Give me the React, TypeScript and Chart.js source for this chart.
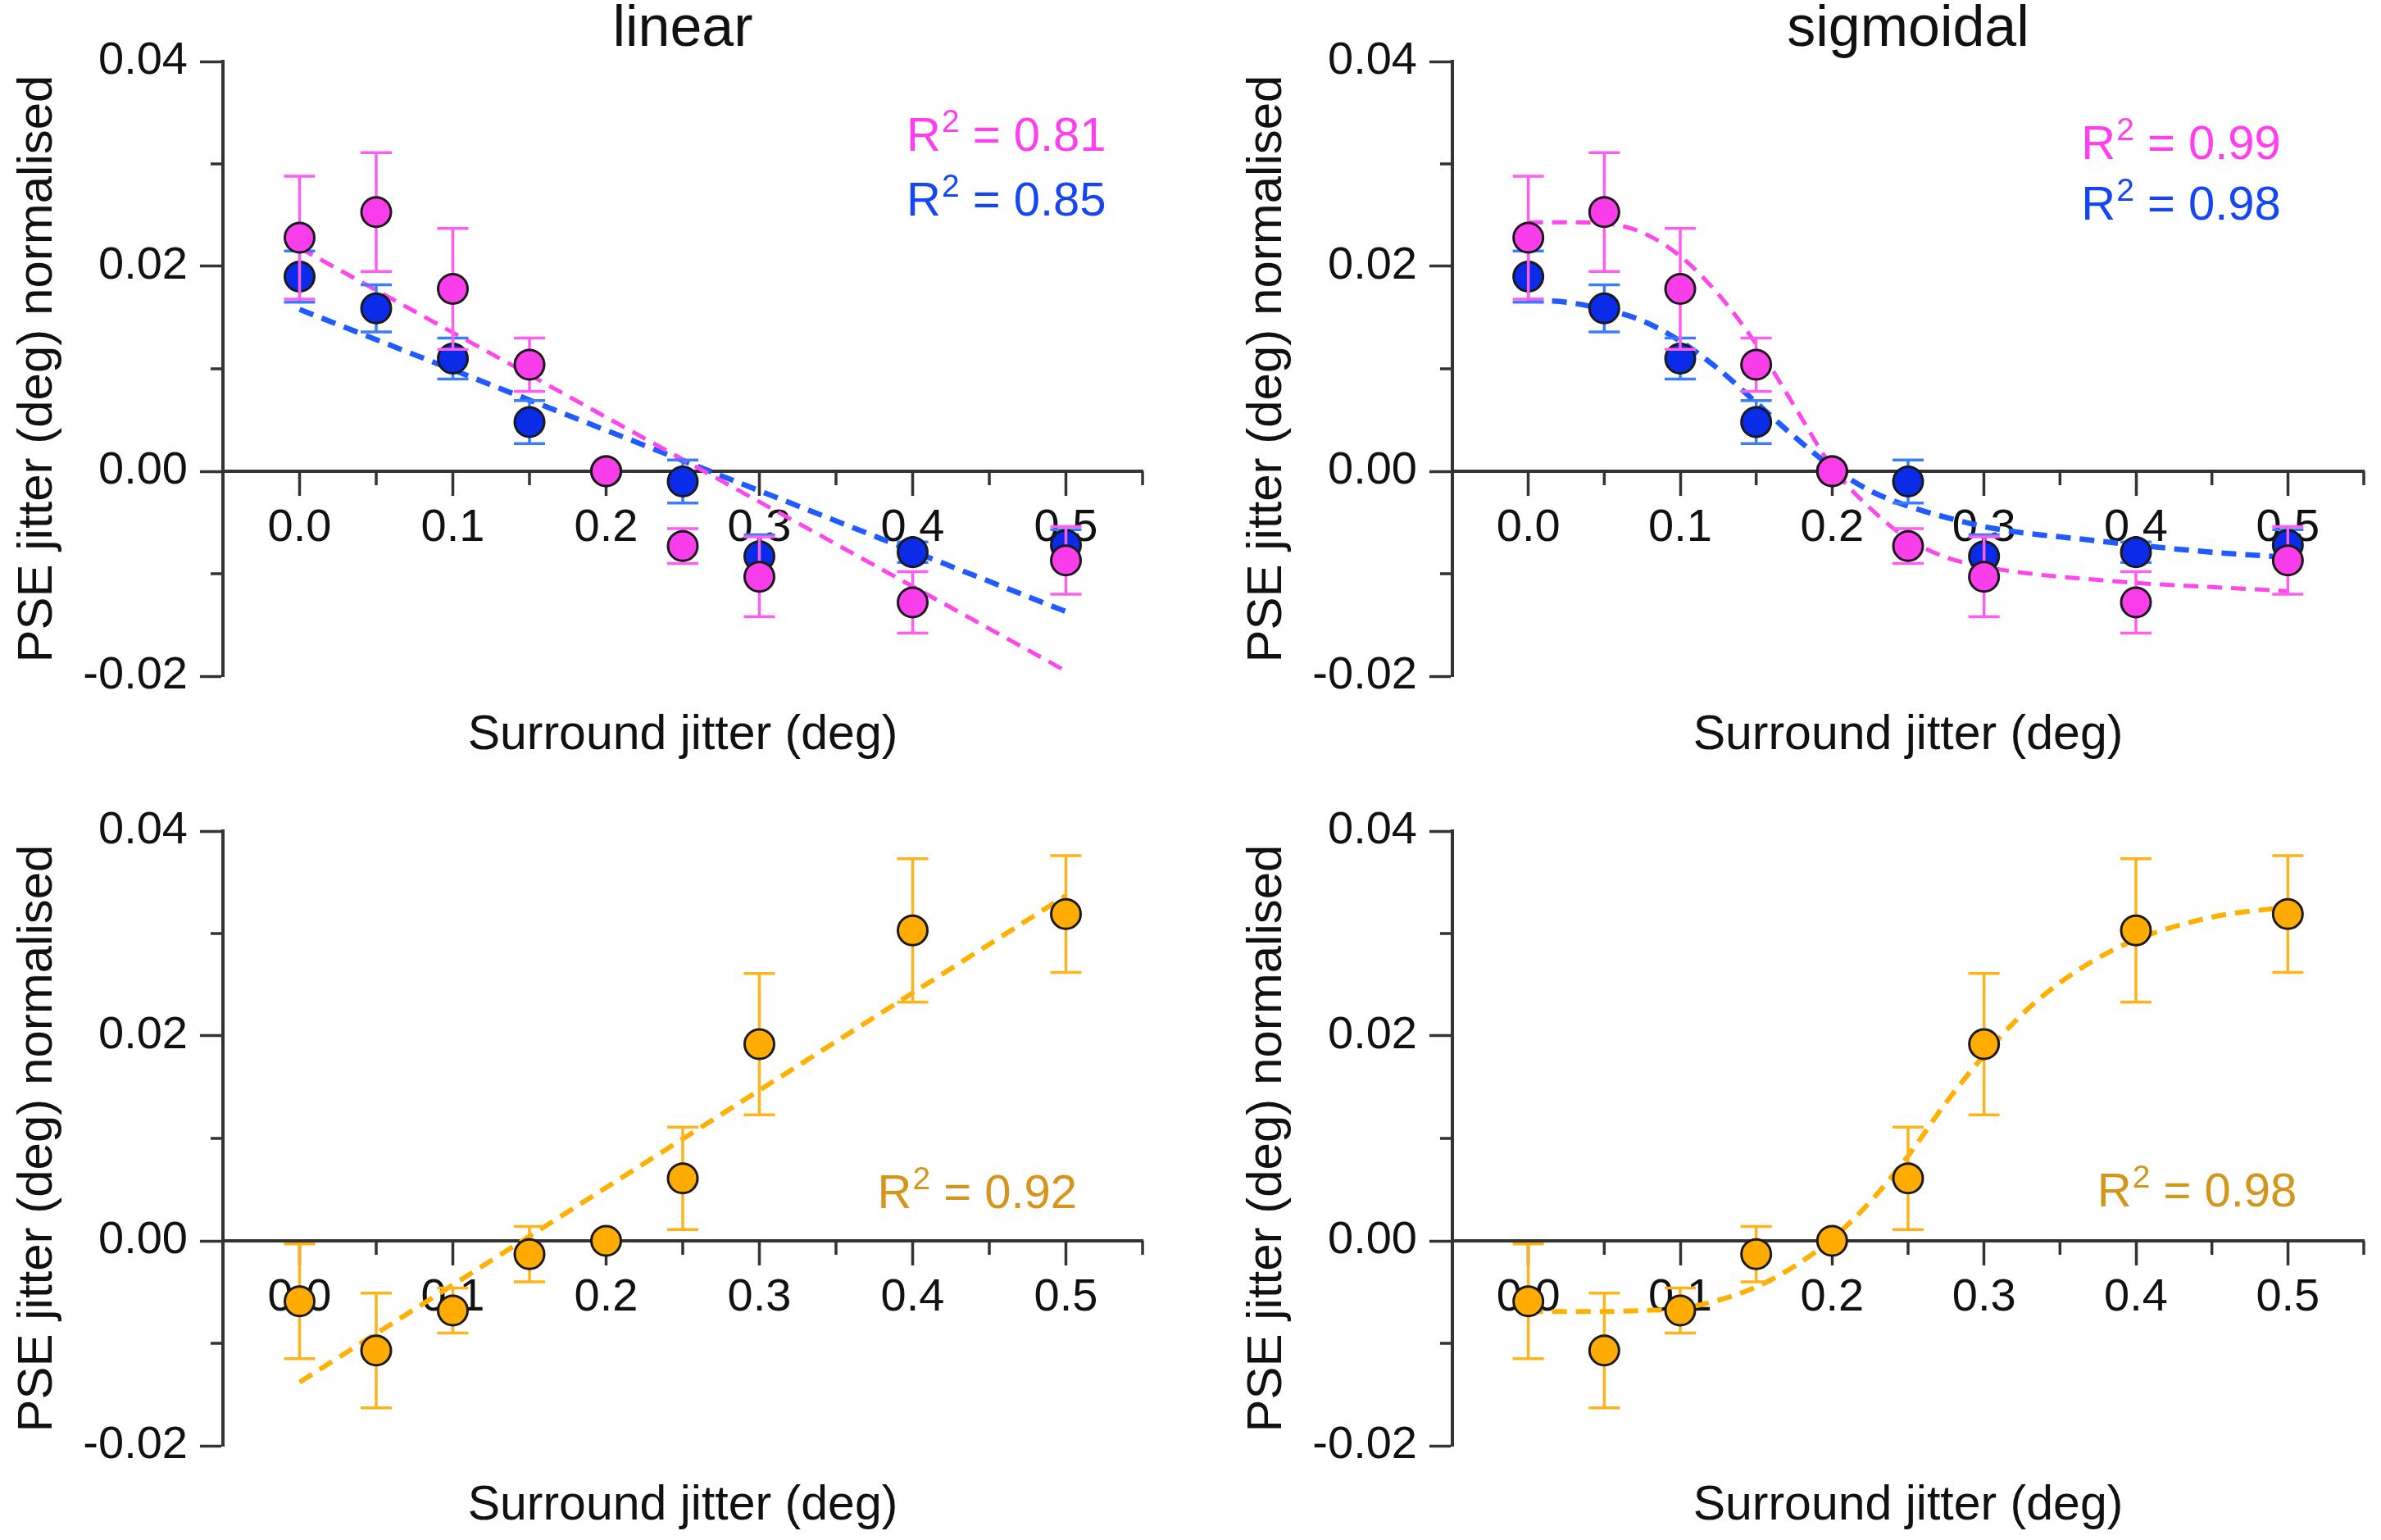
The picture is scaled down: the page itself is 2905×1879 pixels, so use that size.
import React, { useEffect, useRef } from 'react';
import { Chart, registerables } from 'chart.js';

Chart.register(...registerables);

// ---------------- data ----------------
const jitter = [0, 0.05, 0.1, 0.15, 0.2, 0.25, 0.3, 0.4, 0.5];

const magentaMean = [0.0228, 0.0253, 0.0178, 0.0104, 0.0, -0.0073, -0.0103, -0.0128, -0.0087];
const magentaErr = [0.006, 0.0058, 0.0059, 0.0026, 0, 0.0017, 0.0039, 0.003, 0.0033];

const blueMean = [0.019, 0.0159, 0.011, 0.0048, 0.0, -0.001, -0.0083, -0.0079, -0.0072];
const blueErr = [0.0025, 0.0023, 0.002, 0.0021, 0, 0.0021, 0.0021, 0.001, 0.0015];

const orangeMean = [-0.0059, -0.0107, -0.0068, -0.0013, 0.0, 0.0061, 0.0192, 0.0303, 0.0319];
const orangeErr = [0.0056, 0.0056, 0.0022, 0.0027, 0, 0.005, 0.0069, 0.007, 0.0057];

// linear fits (end points)
const linX = [0, 0.5];
const linMagenta = [0.0218, -0.0195];
const linBlue = [0.0158, -0.0137];
const linOrange = [-0.0138, 0.0337];

// sigmoidal fits
const sigX = [0, 0.025, 0.05, 0.075, 0.1, 0.125, 0.15, 0.175, 0.2, 0.225, 0.25, 0.275, 0.3, 0.325, 0.35, 0.375, 0.4, 0.45, 0.5];
const sigMagenta = [0.0243, 0.0243, 0.0242, 0.0233, 0.021, 0.0173, 0.0124, 0.0064, 0.0004, -0.0036, -0.0066, -0.0084, -0.0093, -0.0099, -0.0103, -0.0106, -0.0109, -0.0113, -0.0117];
const sigBlue = [0.0167, 0.0165, 0.0158, 0.0147, 0.0127, 0.01, 0.0067, 0.0034, 0.0004, -0.0019, -0.0034, -0.0045, -0.0054, -0.006, -0.0064, -0.0068, -0.0072, -0.0079, -0.0084];
const sigOrange = [-0.0069, -0.0069, -0.0069, -0.0068, -0.0066, -0.0058, -0.0045, -0.0025, 0.0002, 0.0038, 0.0083, 0.0135, 0.0181, 0.0221, 0.0252, 0.0276, 0.0294, 0.0316, 0.0326];

const xTicks = [0, 0.1, 0.2, 0.3, 0.4, 0.5];
const xMinorTicks = [0.05, 0.15, 0.25, 0.35, 0.45, 0.55];
const yTicks = [-0.02, 0, 0.02, 0.04];
const yMinorTicks = [-0.01, 0.01, 0.03];

const panelTitles = ['linear', 'sigmoidal'];
const xTitle = 'Surround jitter (deg)';
const yTitle = 'PSE jitter (deg) normalised';

const r2Linear = ['0.81', '0.85'];
const r2Sigmoid = ['0.99', '0.98'];
const r2LinearOrange = '0.92';
const r2SigmoidOrange = '0.98';

// ---------------- styles ----------------
const FONT = "'Liberation Sans', Arial, Helvetica, sans-serif";
const AXIS = '#333333';
const TEXT = '#111111';

const MAGENTA = { fill: '#F93DEA', err: '#FF5CF2', line: '#FF45EC', text: '#FF3EF0', width: 5 };
const BLUE = { fill: '#0A2BE8', err: '#3B7CFF', line: '#1F5BFF', text: '#1447F0', width: 6.5 };
const ORANGE = { fill: '#FFAB00', err: '#FFB31A', line: '#FFB000', text: '#D4961A', width: 6 };

type Col = typeof MAGENTA;
type SeriesDef = { mean: number[]; err: number[]; fitX: number[]; fitY: number[]; col: Col; r2: string };
type PanelDef = {
  key: string;
  left: number;
  top: number;
  width: number;
  height: number;
  padRight: number;
  title: string | null;
  smooth: boolean;
  series: SeriesDef[];
  r2x: number;
  r2y: number[];
};

const errorBarPlugin = {
  id: 'errbars',
  beforeDatasetDraw(chart: any, args: any) {
    const ds = chart.data.datasets[args.index];
    if (!ds.errors) return;
    const ctx = chart.ctx;
    const xs = chart.scales.x;
    const ys = chart.scales.y;
    ctx.save();
    ctx.strokeStyle = ds.errColor;
    ctx.lineWidth = 3.5;
    ds.data.forEach((p: any, i: number) => {
      const e = ds.errors[i];
      if (!e) return;
      const px = xs.getPixelForValue(p.x);
      const yt = ys.getPixelForValue(p.y + e);
      const yb = ys.getPixelForValue(p.y - e);
      ctx.beginPath();
      ctx.moveTo(px, yt);
      ctx.lineTo(px, yb);
      ctx.moveTo(px - 19, yt);
      ctx.lineTo(px + 19, yt);
      ctx.moveTo(px - 19, yb);
      ctx.lineTo(px + 19, yb);
      ctx.stroke();
    });
    ctx.restore();
  },
};

const minorTickPlugin = {
  id: 'minorticks',
  beforeDatasetsDraw(chart: any) {
    const ctx = chart.ctx;
    const xs = chart.scales.x;
    const ys = chart.scales.y;
    const y0 = ys.getPixelForValue(0);
    const left = chart.chartArea.left;
    ctx.save();
    ctx.strokeStyle = AXIS;
    ctx.lineWidth = 3.5;
    ctx.beginPath();
    xMinorTicks.forEach((v) => {
      const px = xs.getPixelForValue(v);
      ctx.moveTo(px, y0);
      ctx.lineTo(px, y0 + 17);
    });
    yMinorTicks.forEach((v) => {
      const py = ys.getPixelForValue(v);
      ctx.moveTo(left - 15, py);
      ctx.lineTo(left, py);
    });
    ctx.stroke();
    ctx.restore();
  },
};

const r2Plugin = {
  id: 'r2labels',
  afterDatasetsDraw(chart: any, _args: any, opts: any) {
    const items = (opts && opts.items) || [];
    const ctx = chart.ctx;
    const xs = chart.scales.x;
    const ys = chart.scales.y;
    ctx.save();
    ctx.textBaseline = 'alphabetic';
    ctx.textAlign = 'left';
    items.forEach((it: any) => {
      let px = xs.getPixelForValue(it.x);
      const py = ys.getPixelForValue(it.y);
      ctx.fillStyle = it.color;
      ctx.font = `58px ${FONT}`;
      ctx.fillText('R', px, py);
      px += ctx.measureText('R').width;
      ctx.font = `39px ${FONT}`;
      ctx.fillText('2', px + 1, py - 23);
      px += ctx.measureText('2').width + 1;
      ctx.font = `58px ${FONT}`;
      ctx.fillText(' = ' + it.value, px, py);
    });
    ctx.restore();
  },
};

function Panel({ def }: { def: PanelDef }) {
  const ref = useRef<HTMLCanvasElement | null>(null);
  useEffect(() => {
    if (!ref.current) return;
    const datasets: any[] = [];
    def.series.forEach((s, i) => {
      datasets.push({
        type: 'line',
        xAxisID: 'x',
        yAxisID: 'y',
        data: s.fitX.map((x, k) => ({ x, y: s.fitY[k] })),
        borderColor: s.col.line,
        borderWidth: s.col.width,
        borderDash: [18, 11],
        pointRadius: 0,
        fill: false,
        showLine: true,
        cubicInterpolationMode: def.smooth ? 'monotone' : 'default',
        tension: 0,
        order: 10 + i,
      });
      datasets.push({
        type: 'scatter',
        xAxisID: 'x',
        yAxisID: 'y',
        data: jitter.map((x, k) => ({ x, y: s.mean[k] })),
        errors: s.err,
        errColor: s.col.err,
        backgroundColor: s.col.fill,
        borderColor: '#1a1a1a',
        borderWidth: 3,
        pointRadius: 18,
        pointHoverRadius: 18,
        order: 1 + i,
      });
    });
    const bottomH = def.height - 825;
    const chart = new Chart(ref.current, {
      type: 'scatter',
      data: { datasets },
      plugins: [errorBarPlugin, minorTickPlugin, r2Plugin],
      options: {
        animation: false,
        responsive: false,
        events: [],
        layout: { padding: { left: 0, right: def.padRight, top: def.title ? 0 : 75, bottom: 0 } },
        plugins: {
          legend: { display: false },
          tooltip: { enabled: false },
          title: {
            display: !!def.title,
            text: def.title || '',
            fullSize: false,
            color: TEXT,
            font: { family: FONT, size: 70, weight: 'normal', lineHeight: 1 },
            padding: { top: 2, bottom: 3 },
          },
          r2labels: {
            items: def.series.map((s, i) => ({ x: def.r2x, y: def.r2y[i], value: s.r2, color: s.col.text })),
          },
        } as any,
        scales: {
          x: {
            type: 'linear',
            min: -0.05,
            max: 0.55,
            position: { y: 0 } as any,
            afterBuildTicks: (s: any) => {
              s.ticks = xTicks.map((v) => ({ value: v }));
            },
            ticks: {
              font: { family: FONT, size: 56 },
              color: TEXT,
              padding: 8,
              maxRotation: 0,
              autoSkip: false,
              callback: (v: any) => Number(v).toFixed(1),
            },
            grid: { display: true, drawOnChartArea: false, drawTicks: true, tickLength: 28, tickWidth: 3.5, tickColor: AXIS },
            border: { display: true, color: AXIS, width: 4 },
          },
          xTitle: {
            type: 'linear',
            axis: 'x',
            position: 'bottom',
            min: 0,
            max: 1,
            ticks: { display: false },
            grid: { display: false, drawTicks: false },
            border: { display: false },
            title: {
              display: true,
              text: xTitle,
              color: TEXT,
              font: { family: FONT, size: 59 },
              padding: { top: 0, bottom: 6 },
            },
            afterFit: (s: any) => {
              s.height = bottomH;
            },
          },
          y: {
            type: 'linear',
            position: 'left',
            min: -0.02,
            max: 0.04,
            afterBuildTicks: (s: any) => {
              s.ticks = yTicks.map((v) => ({ value: v }));
            },
            ticks: {
              font: { family: FONT, size: 56 },
              color: TEXT,
              padding: 15,
              callback: (v: any) => Number(v).toFixed(2),
            },
            grid: { display: true, drawOnChartArea: false, drawTicks: true, tickLength: 28, tickWidth: 3.5, tickColor: AXIS },
            border: { display: true, color: AXIS, width: 4 },
            title: {
              display: true,
              text: yTitle,
              color: TEXT,
              font: { family: FONT, size: 60 },
              padding: { top: 10, bottom: 0 },
            },
            afterFit: (s: any) => {
              s.width = 272;
            },
          },
        } as any,
      },
    });
    return () => chart.destroy();
  }, [def]);
  return (
    <div style={{ position: 'absolute', left: def.left, top: def.top, width: def.width, height: def.height }}>
      <canvas ref={ref} width={def.width} height={def.height} style={{ width: def.width, height: def.height, display: 'block' }} />
    </div>
  );
}

const magentaLin: SeriesDef = { mean: magentaMean, err: magentaErr, fitX: linX, fitY: linMagenta, col: MAGENTA, r2: r2Linear[0] };
const blueLin: SeriesDef = { mean: blueMean, err: blueErr, fitX: linX, fitY: linBlue, col: BLUE, r2: r2Linear[1] };
const magentaSig: SeriesDef = { mean: magentaMean, err: magentaErr, fitX: sigX, fitY: sigMagenta, col: MAGENTA, r2: r2Sigmoid[0] };
const blueSig: SeriesDef = { mean: blueMean, err: blueErr, fitX: sigX, fitY: sigBlue, col: BLUE, r2: r2Sigmoid[1] };
const orangeLin: SeriesDef = { mean: orangeMean, err: orangeErr, fitX: linX, fitY: linOrange, col: ORANGE, r2: r2LinearOrange };
const orangeSig: SeriesDef = { mean: orangeMean, err: orangeErr, fitX: sigX, fitY: sigOrange, col: ORANGE, r2: r2SigmoidOrange };

const PANELS: PanelDef[] = [
  { key: 'tl', left: 0, top: 0, width: 1452, height: 939, padRight: 58, title: panelTitles[0], smooth: false, series: [magentaLin, blueLin], r2x: 0.396, r2y: [0.0313, 0.025] },
  { key: 'tr', left: 1500, top: 0, width: 1405, height: 939, padRight: 10, title: panelTitles[1], smooth: true, series: [magentaSig, blueSig], r2x: 0.364, r2y: [0.0305, 0.0246] },
  { key: 'bl', left: 0, top: 939, width: 1452, height: 940, padRight: 58, title: null, smooth: false, series: [orangeLin], r2x: 0.377, r2y: [0.0032] },
  { key: 'br', left: 1500, top: 939, width: 1405, height: 940, padRight: 10, title: null, smooth: true, series: [orangeSig], r2x: 0.3745, r2y: [0.0034] },
];

export default function App() {
  return (
    <div style={{ position: 'absolute', left: 0, top: 0, width: 2905, height: 1879, background: '#ffffff', overflow: 'hidden' }}>
      {PANELS.map((p) => (
        <Panel key={p.key} def={p} />
      ))}
    </div>
  );
}
